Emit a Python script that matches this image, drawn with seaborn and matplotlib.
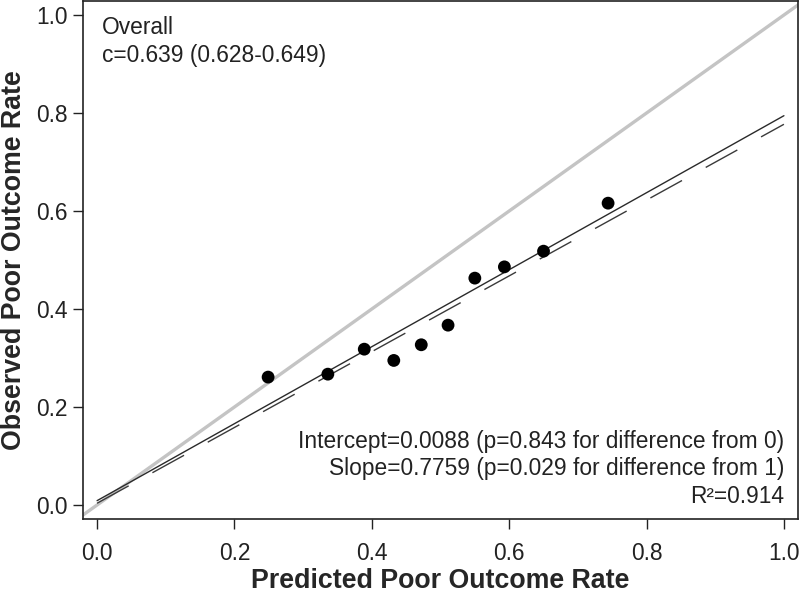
import matplotlib
matplotlib.use("Agg")
import matplotlib.pyplot as plt
import seaborn as sns
import pandas as pd

# Calibration points (predicted vs observed poor outcome rate, per decile)
predicted = [0.249, 0.336, 0.389, 0.432, 0.472, 0.511, 0.550, 0.593, 0.650, 0.744]
observed = [0.261, 0.267, 0.318, 0.295, 0.327, 0.367, 0.463, 0.486, 0.518, 0.616]

# Fitted calibration lines, read at x=0 and x=1
line_x = [0.0, 1.0]
fit_solid_y = [0.0088, 0.7945]
fit_dashed_y = [0.0035, 0.777]

ticks = [0.0, 0.2, 0.4, 0.6, 0.8, 1.0]
tick_labels = ["0.0", "0.2", "0.4", "0.6", "0.8", "1.0"]

top_text = ["Overall", "c=0.639 (0.628-0.649)"]
bottom_text = ["Intercept=0.0088 (p=0.843 for difference from 0)",
               "Slope=0.7759 (p=0.029 for difference from 1)",
               "R\u00b2=0.914"]

sns.set_style("white")
plt.rcParams['font.family'] = ['Liberation Sans', 'DejaVu Sans']

df = pd.DataFrame({'Predicted': predicted, 'Observed': observed})
lines = pd.DataFrame({'x': line_x, 'solid': fit_solid_y, 'dashed': fit_dashed_y})

fig = plt.figure(figsize=(8, 5.93), dpi=100)
ax = fig.add_axes([0.10375, 0.1248, 0.89375, 0.8735])

# identity line across the whole plot region
ax.axline((0, 0), slope=1, color='#c4c4c4', linewidth=2.4, zorder=1)

sns.lineplot(data=lines, x='x', y='solid', color='#2a2a2a', linewidth=1.0, ax=ax, zorder=2)
ax.plot(lines['x'], lines['dashed'], color='#3a3a3a', linewidth=1.0,
        linestyle=(0, (26, 19.5)), zorder=2)

sns.scatterplot(data=df, x='Predicted', y='Observed', color='black', s=85,
                edgecolor='none', ax=ax, zorder=3)

ax.set_xlim(-0.0205, 1.0205)
ax.set_ylim(-0.0286, 1.0286)
ax.set_xticks(ticks)
ax.set_xticklabels(tick_labels)
ax.set_yticks(ticks)
ax.set_yticklabels(tick_labels)
ax.tick_params(axis='both', direction='out', length=7.5, width=1.0, color='#222222',
               labelsize=16.4, labelcolor='#222222', left=True, bottom=True)
ax.tick_params(axis='x', pad=9)
ax.tick_params(axis='y', pad=3.5)
for sp in ax.spines.values():
    sp.set_visible(True)
    sp.set_color('#222222')
    sp.set_linewidth(1.2)

ax.set_xlabel('Predicted Poor Outcome Rate', fontsize=19.3, fontweight='bold')
ax.set_ylabel('Observed Poor Outcome Rate', fontsize=19.3, fontweight='bold')
ax.xaxis.label.set_va('baseline')
ax.xaxis.set_label_coords(0.5, -0.133)
ax.yaxis.label.set_va('center')
ax.yaxis.set_label_coords(-0.097, 0.5)

txt = dict(fontsize=16.4, color='#222222', va='baseline')
ax.text(0.0075, 0.961, top_text[0], ha='left', **txt)
ax.text(0.0075, 0.904, top_text[1], ha='left', **txt)
ax.text(1.0, 0.1163, bottom_text[0], ha='right', **txt)
ax.text(1.0, 0.0612, bottom_text[1], ha='right', **txt)
ax.text(1.0, 0.004, bottom_text[2], ha='right', **txt)

fig.savefig('out.png', dpi=100)
